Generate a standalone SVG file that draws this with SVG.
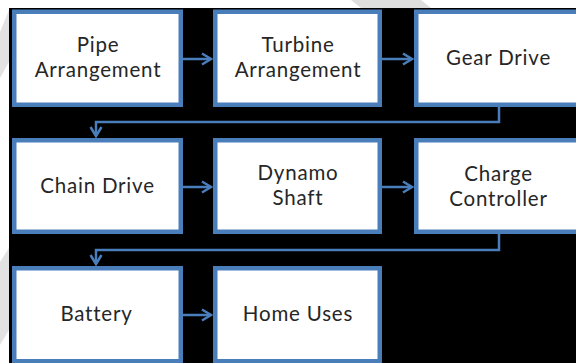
<svg xmlns="http://www.w3.org/2000/svg" width="576" height="363" viewBox="0 0 576 363">
<style>
.box{fill:#ffffff;stroke:#4A7EBB;stroke-width:4.5}
.lbl{font-family:Lato,"Open Sans","Liberation Sans",sans-serif;font-size:20.5px;letter-spacing:0.8px;fill:#262626;text-anchor:middle}
.con{fill:none;stroke:#4A7EBB;stroke-width:2.5}
</style>
<defs>
<marker id="arr" markerUnits="userSpaceOnUse" viewBox="-2 -8 14 16" markerWidth="14" markerHeight="16" refX="9" refY="0" orient="auto">
<path d="M0,-5.5 L9,0 L0,5.5" fill="none" stroke="#4A7EBB" stroke-width="2.5"/>
</marker>
</defs>
<rect x="0" y="0" width="576" height="363" fill="#ffffff"/>
<polygon points="351,0 421,0 431,8 361,8" fill="#dedede"/>
<polygon points="0,32 9,10 9,62 0,78" fill="#e2e2e2"/>
<polygon points="0,262 9,248 9,330 0,345" fill="#e2e2e2"/>
<rect x="9" y="8" width="567" height="355" fill="#000000"/>
<g id="connectors">
<line class="con" x1="183" y1="59" x2="211" y2="59" marker-end="url(#arr)"/>
<line class="con" x1="382" y1="59" x2="412" y2="59" marker-end="url(#arr)"/>
<polyline class="con" points="499,107 499,122 96,122 96,136" marker-end="url(#arr)"/>
<line class="con" x1="183" y1="187" x2="211" y2="187" marker-end="url(#arr)"/>
<line class="con" x1="382" y1="187" x2="412" y2="187" marker-end="url(#arr)"/>
<polyline class="con" points="499,234 499,250 96,250 96,264" marker-end="url(#arr)"/>
<line class="con" x1="183" y1="315" x2="211" y2="315" marker-end="url(#arr)"/>
</g>
<g id="pipe">
<rect class="box" x="14.25" y="11.75" width="166.5" height="93"/>
<text class="lbl" x="98" y="52">Pipe</text>
<text class="lbl" x="98" y="77">Arrangement</text>
</g>
<g id="turbine">
<rect class="box" x="215.25" y="11.75" width="164.5" height="93"/>
<text class="lbl" x="298" y="52">Turbine</text>
<text class="lbl" x="298" y="77">Arrangement</text>
</g>
<g id="gear">
<rect class="box" x="416.25" y="11.75" width="166.5" height="93"/>
<text class="lbl" x="498.5" y="65">Gear Drive</text>
</g>
<g id="chain">
<rect class="box" x="14.25" y="140.25" width="166.5" height="91.5"/>
<text class="lbl" x="97.5" y="193">Chain Drive</text>
</g>
<g id="dynamo">
<rect class="box" x="215.25" y="140.25" width="164.5" height="91.5"/>
<text class="lbl" x="298" y="180">Dynamo</text>
<text class="lbl" x="298" y="205">Shaft</text>
</g>
<g id="charge">
<rect class="box" x="416.25" y="140.25" width="166.5" height="91.5"/>
<text class="lbl" x="498.5" y="181">Charge</text>
<text class="lbl" x="498.5" y="206">Controller</text>
</g>
<g id="battery">
<rect class="box" x="14.25" y="268.25" width="166.5" height="93"/>
<text class="lbl" x="96.5" y="321">Battery</text>
</g>
<g id="home">
<rect class="box" x="215.25" y="268.25" width="164.5" height="93"/>
<text class="lbl" x="298" y="321">Home Uses</text>
</g>
</svg>
